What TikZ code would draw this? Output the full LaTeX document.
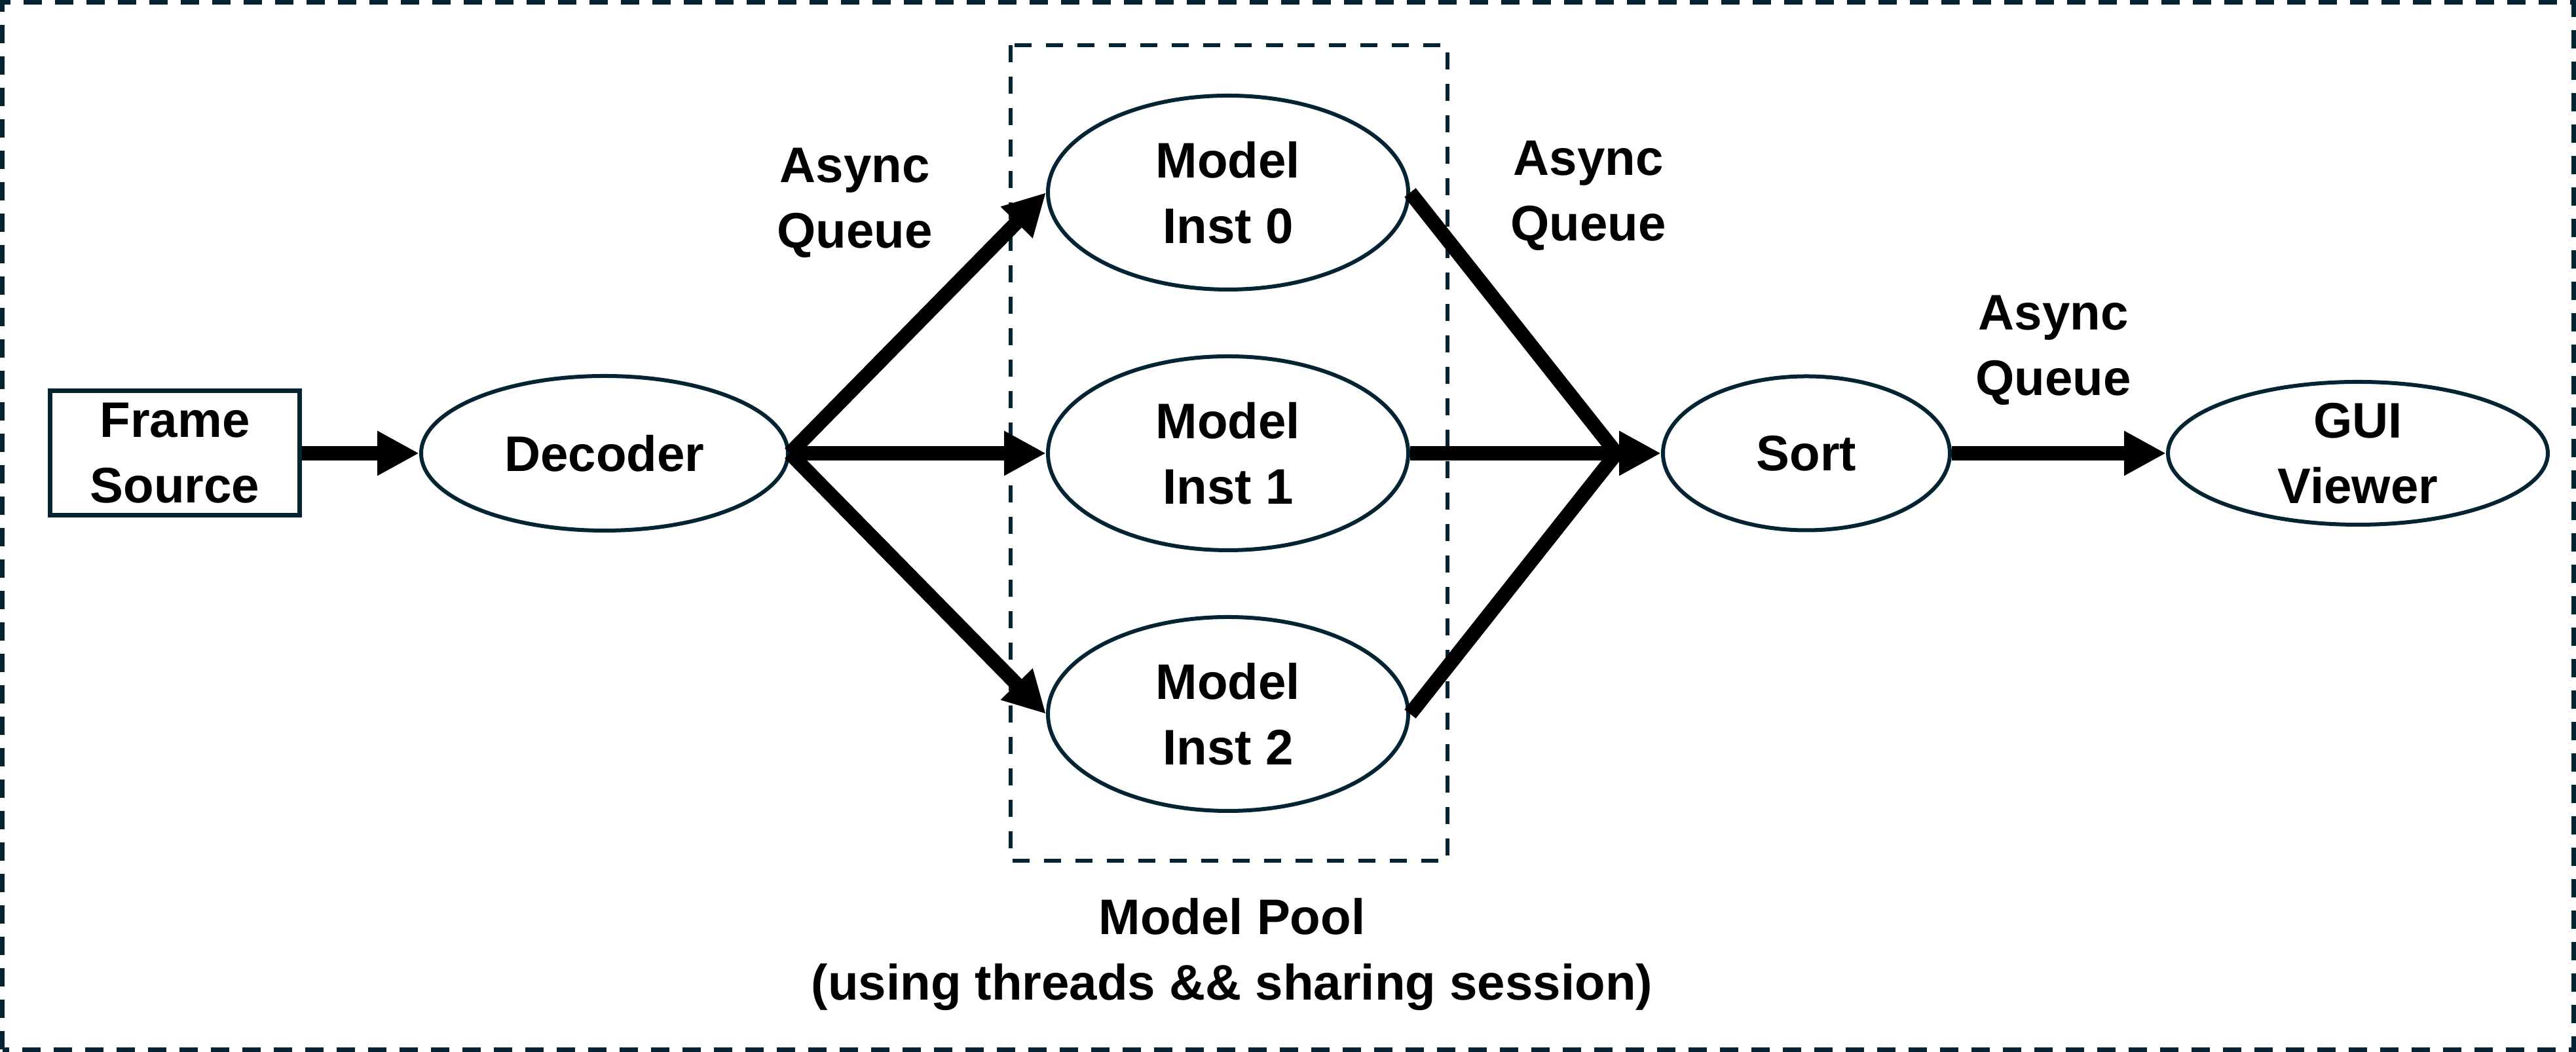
\documentclass[tikz,border=0pt]{standalone}
\usepackage{fontspec}
\setmainfont{Liberation Sans}
\usetikzlibrary{arrows.meta,shapes.geometric}
\definecolor{navy}{HTML}{042433}
\tikzstyle{box}=[rectangle,draw=navy,line width=0.07cm,minimum width=3.81cm,minimum height=1.9cm,align=center,inner sep=0pt]
\tikzstyle{oval}=[ellipse,draw=navy,line width=0.06cm,align=center,inner sep=0pt]
\tikzstyle{model}=[oval,minimum width=5.5cm,minimum height=2.96cm]
\tikzstyle{caption}=[align=center]
\tikzstyle{flow}=[line width=0.22cm,-{Triangle[length=0.64cm,width=0.64cm]}]
\tikzstyle{feed}=[line width=0.22cm]
\tikzstyle{pool}=[draw=navy,line width=0.06cm,dash pattern=on 0.26cm off 0.22cm]
\tikzstyle{border}=[draw=navy,line width=0.07cm,dash pattern=on 0.28cm off 0.2cm]

\begin{document}
\begin{tikzpicture}[every node/.style={font=\bfseries\fontsize{21.7}{28.5}\selectfont}]
  \useasboundingbox (0,0) rectangle (39.33,16.06);
  % frames
  \draw[border] (0.035,0.035) rectangle (39.295,16.025);
  \draw[pool] (15.43,15.37) rectangle (22.10,2.92);
  % pipeline
  \node[box] (frame) at (2.67,9.14) {Frame\\Source};
  \node[oval,minimum width=5.6cm,minimum height=2.36cm,right of=frame,node distance=6.56cm] (decoder) {Decoder};
  \node[model,right of=decoder,node distance=9.52cm] (inst1) {Model\\Inst 1};
  \node[model,above of=inst1,node distance=3.98cm] (inst0) {Model\\Inst 0};
  \node[model,below of=inst1,node distance=3.98cm] (inst2) {Model\\Inst 2};
  \node[oval,minimum width=4.38cm,minimum height=2.35cm,right of=inst1,node distance=8.83cm] (sort) {Sort};
  \node[oval,minimum width=5.8cm,minimum height=2.12cm,right of=sort,node distance=8.42cm] (gui) {GUI\\Viewer};
  \coordinate (sortin) at ([xshift=-0.68cm]sort.west);
  % labels
  \node[caption] (queue1) at (13.05,12.96) {Async\\Queue};
  \node[caption] (queue2) at (24.25,13.07) {Async\\Queue};
  \node[caption] (queue3) at (31.35,10.71) {Async\\Queue};
  \node[caption] (poolnote) at (18.81,1.49) {Model Pool\\(using threads \&\& sharing session)};
  % arrows
  \draw[flow] (frame)--(decoder);
  \draw[flow] (decoder.east)--(inst0.west);
  \draw[flow] (decoder.east)--(inst1.west);
  \draw[flow] (decoder.east)--(inst2.west);
  \draw[feed] (inst0.east)--(sortin);
  \draw[flow] (inst1.east)--(sort.west);
  \draw[feed] (inst2.east)--(sortin);
  \draw[flow] (sort)--(gui);
\end{tikzpicture}
\end{document}
